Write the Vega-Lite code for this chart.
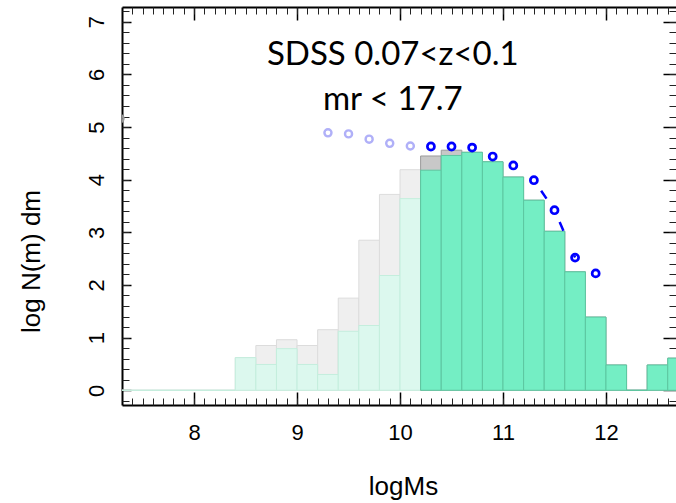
{
  "$schema": "https://vega.github.io/schema/vega-lite/v6.json",
  "autosize": {"type": "none"},
  "width": 554,
  "height": 398,
  "padding": {"left": 122, "top": 7, "right": 0, "bottom": 98},
  "background": "white",
  "config": {
    "view": {"stroke": null},
    "axis": {"grid": false, "labelFont": "Liberation Sans", "titleFont": "Liberation Sans", "titleFontWeight": "normal", "labelColor": "black", "titleColor": "black"}
  },
  "resolve": {"axis": {"x": "independent", "y": "independent"}},
  "datasets": {
    "light": [
      {"lo": 7.2, "hi": 7.4, "total": 0, "sel": 0},
      {"lo": 7.4, "hi": 7.6, "total": 0, "sel": 0},
      {"lo": 7.6, "hi": 7.8, "total": 0, "sel": 0},
      {"lo": 7.8, "hi": 8.0, "total": 0, "sel": 0},
      {"lo": 8.0, "hi": 8.2, "total": 0, "sel": 0},
      {"lo": 8.2, "hi": 8.4, "total": 0, "sel": 0},
      {"lo": 8.4, "hi": 8.6, "total": 0.62, "sel": 0.62},
      {"lo": 8.6, "hi": 8.8, "total": 0.85, "sel": 0.49},
      {"lo": 8.8, "hi": 9.0, "total": 0.96, "sel": 0.79},
      {"lo": 9.0, "hi": 9.2, "total": 0.85, "sel": 0.49},
      {"lo": 9.2, "hi": 9.4, "total": 1.15, "sel": 0.30},
      {"lo": 9.4, "hi": 9.6, "total": 1.75, "sel": 1.12},
      {"lo": 9.6, "hi": 9.8, "total": 2.85, "sel": 1.23},
      {"lo": 9.8, "hi": 10.0, "total": 3.72, "sel": 2.18},
      {"lo": 10.0, "hi": 10.2, "total": 4.19, "sel": 3.64}
    ],
    "main": [
      {"lo": 10.2, "hi": 10.4, "total": 4.45, "sel": 4.18},
      {"lo": 10.4, "hi": 10.6, "total": 4.56, "sel": 4.46},
      {"lo": 10.6, "hi": 10.8, "total": 4.52, "sel": 4.52},
      {"lo": 10.8, "hi": 11.0, "total": 4.34, "sel": 4.34},
      {"lo": 11.0, "hi": 11.2, "total": 4.05, "sel": 4.05},
      {"lo": 11.2, "hi": 11.4, "total": 3.61, "sel": 3.61},
      {"lo": 11.4, "hi": 11.6, "total": 3.02, "sel": 3.02},
      {"lo": 11.6, "hi": 11.8, "total": 2.25, "sel": 2.25},
      {"lo": 11.8, "hi": 12.0, "total": 1.39, "sel": 1.39},
      {"lo": 12.0, "hi": 12.2, "total": 0.48, "sel": 0.48},
      {"lo": 12.2, "hi": 12.4, "total": 0, "sel": 0},
      {"lo": 12.4, "hi": 12.6, "total": 0.48, "sel": 0.48},
      {"lo": 12.6, "hi": 12.8, "total": 0.61, "sel": 0.61}
    ],
    "mf_low": [
      {"m": 9.3, "n": 4.89},
      {"m": 9.5, "n": 4.87},
      {"m": 9.7, "n": 4.77},
      {"m": 9.9, "n": 4.69},
      {"m": 10.1, "n": 4.64}
    ],
    "mf_high": [
      {"m": 10.3, "n": 4.63},
      {"m": 10.5, "n": 4.63},
      {"m": 10.7, "n": 4.61},
      {"m": 10.9, "n": 4.44},
      {"m": 11.1, "n": 4.27},
      {"m": 11.3, "n": 3.99},
      {"m": 11.5, "n": 3.42},
      {"m": 11.7, "n": 2.52},
      {"m": 11.9, "n": 2.22}
    ],
    "mf_edge": [
      {"m": 7.28, "n": 5.16}
    ],
    "notes": [
      {"m": 9.93, "n": 6.17, "label": "SDSS 0.07<z<0.1"},
      {"m": 9.93, "n": 5.32, "label": "mr < 17.7"}
    ]
  },
  "layer": [
    {
      "data": {"name": "light"},
      "mark": {"type": "rect", "fill": "#efefef", "stroke": "#dcdcdc", "strokeWidth": 1, "clip": true},
      "encoding": {
        "x": {
          "field": "lo", "type": "quantitative",
          "scale": {"domain": [7.3, 12.68], "nice": false, "zero": false},
          "axis": {
            "orient": "bottom", "values": [8, 9, 10, 11, 12], "ticks": false, "tickSize": 0,
            "domain": true, "domainColor": "black", "domainWidth": 2,
            "labelFontSize": 22, "labelPadding": 17, "labelBaseline": "top",
            "title": "logMs", "titleFontSize": 26, "titleX": 281, "titleY": 89, "titleBaseline": "alphabetic", "titleAlign": "center"
          }
        },
        "x2": {"field": "hi"},
        "y": {
          "field": "total", "type": "quantitative",
          "scale": {"domain": [-0.28, 7.28], "nice": false, "zero": false},
          "axis": {
            "orient": "left", "values": [0, 1, 2, 3, 4, 5, 6, 7], "ticks": false, "tickSize": 0,
            "domain": true, "domainColor": "black", "domainWidth": 2,
            "labelFontSize": 22, "labelPadding": 14, "labelAngle": 270, "labelAlign": "center", "labelBaseline": "bottom",
            "title": "log N(m) dm", "titleFontSize": 26, "titleAngle": 270, "titleX": -83, "titleY": 254, "titleBaseline": "alphabetic", "titleAlign": "center"
          }
        },
        "y2": {"datum": 0}
      }
    },
    {
      "data": {"name": "light"},
      "mark": {"type": "rect", "fill": "#dcf8ee", "stroke": "#c4eedd", "strokeWidth": 1, "clip": true},
      "encoding": {
        "x": {
          "field": "lo", "type": "quantitative",
          "axis": {"orient": "bottom", "values": [8, 9, 10, 11, 12], "labels": false, "domain": false, "tickSize": -13, "tickWidth": 1.5, "tickColor": "black", "title": null}
        },
        "x2": {"field": "hi"},
        "y": {
          "field": "sel", "type": "quantitative",
          "axis": {"orient": "left", "values": [0, 1, 2, 3, 4, 5, 6, 7], "labels": false, "domain": false, "tickSize": -9, "tickWidth": 1.5, "tickColor": "black", "title": null}
        },
        "y2": {"datum": 0}
      }
    },
    {
      "data": {"name": "main"},
      "mark": {"type": "rect", "fill": "#c8c8c8", "stroke": "#9a9a9a", "strokeWidth": 1, "clip": true},
      "encoding": {
        "x": {
          "field": "lo", "type": "quantitative",
          "axis": {"orient": "bottom", "values": [7.4, 7.5, 7.6, 7.7, 7.8, 7.9, 8, 8.1, 8.2, 8.3, 8.4, 8.5, 8.6, 8.7, 8.8, 8.9, 9, 9.1, 9.2, 9.3, 9.4, 9.5, 9.6, 9.7, 9.8, 9.9, 10, 10.1, 10.2, 10.3, 10.4, 10.5, 10.6, 10.7, 10.8, 10.9, 11, 11.1, 11.2, 11.3, 11.4, 11.5, 11.6, 11.7, 11.8, 11.9, 12, 12.1, 12.2, 12.3, 12.4, 12.5, 12.6], "labels": false, "domain": false, "tickSize": -7, "tickWidth": 1, "tickColor": "#222", "title": null}
        },
        "x2": {"field": "hi"},
        "y": {
          "field": "total", "type": "quantitative",
          "axis": {"orient": "left", "values": [-0.2, 0, 0.2, 0.4, 0.6, 0.8, 1, 1.2, 1.4, 1.6, 1.8, 2, 2.2, 2.4, 2.6, 2.8, 3, 3.2, 3.4, 3.6, 3.8, 4, 4.2, 4.4, 4.6, 4.8, 5, 5.2, 5.4, 5.6, 5.8, 6, 6.2, 6.4, 6.6, 6.8, 7, 7.2], "labels": false, "domain": false, "tickSize": -7, "tickWidth": 1, "tickColor": "#222", "title": null}
        },
        "y2": {"datum": 0}
      }
    },
    {
      "data": {"name": "main"},
      "mark": {"type": "rect", "fill": "#74eec4", "stroke": "#5cc7a0", "strokeWidth": 1, "clip": true},
      "encoding": {
        "x": {
          "field": "lo", "type": "quantitative",
          "axis": {"orient": "top", "values": [8, 9, 10, 11, 12], "labels": false, "domain": true, "domainColor": "black", "domainWidth": 2, "tickSize": -13, "tickWidth": 1.5, "tickColor": "black", "title": null}
        },
        "x2": {"field": "hi"},
        "y": {
          "field": "sel", "type": "quantitative",
          "axis": {"orient": "right", "values": [0, 1, 2, 3, 4, 5, 6, 7], "labels": false, "domain": false, "tickSize": -13, "tickWidth": 1.5, "tickColor": "black", "title": null}
        },
        "y2": {"datum": 0}
      }
    },
    {
      "data": {"name": "mf_high"},
      "transform": [{"filter": "datum.m >= 11.25 && datum.m <= 11.75"}],
      "mark": {"type": "line", "color": "#0000ff", "strokeWidth": 2.5, "strokeDash": [9.5, 27], "strokeDashOffset": 23.7},
      "encoding": {
        "x": {"field": "m", "type": "quantitative", "axis": null},
        "y": {"field": "n", "type": "quantitative", "axis": null}
      }
    },
    {
      "data": {"name": "mf_low"},
      "mark": {"type": "point", "shape": "circle", "filled": false, "opacity": 1, "color": "#b0b0f8", "strokeWidth": 2.4, "size": 50},
      "encoding": {
        "x": {
          "field": "m", "type": "quantitative",
          "axis": {"orient": "top", "values": [7.4, 7.5, 7.6, 7.7, 7.8, 7.9, 8, 8.1, 8.2, 8.3, 8.4, 8.5, 8.6, 8.7, 8.8, 8.9, 9, 9.1, 9.2, 9.3, 9.4, 9.5, 9.6, 9.7, 9.8, 9.9, 10, 10.1, 10.2, 10.3, 10.4, 10.5, 10.6, 10.7, 10.8, 10.9, 11, 11.1, 11.2, 11.3, 11.4, 11.5, 11.6, 11.7, 11.8, 11.9, 12, 12.1, 12.2, 12.3, 12.4, 12.5, 12.6], "labels": false, "domain": false, "tickSize": -7, "tickWidth": 1, "tickColor": "#222", "title": null}
        },
        "y": {
          "field": "n", "type": "quantitative",
          "axis": {"orient": "right", "values": [-0.2, 0, 0.2, 0.4, 0.6, 0.8, 1, 1.2, 1.4, 1.6, 1.8, 2, 2.2, 2.4, 2.6, 2.8, 3, 3.2, 3.4, 3.6, 3.8, 4, 4.2, 4.4, 4.6, 4.8, 5, 5.2, 5.4, 5.6, 5.8, 6, 6.2, 6.4, 6.6, 6.8, 7, 7.2], "labels": false, "domain": false, "tickSize": -7, "tickWidth": 1, "tickColor": "#222", "title": null}
        }
      }
    },
    {
      "data": {"name": "mf_high"},
      "mark": {"type": "point", "shape": "circle", "filled": false, "opacity": 1, "color": "#0000ff", "strokeWidth": 2.7, "size": 50},
      "encoding": {
        "x": {"field": "m", "type": "quantitative", "axis": null},
        "y": {"field": "n", "type": "quantitative", "axis": null}
      }
    },
    {
      "data": {"name": "mf_edge"},
      "mark": {"type": "point", "shape": "circle", "filled": false, "opacity": 1, "color": "#9a9a9a", "strokeWidth": 2.5, "size": 50, "clip": true},
      "encoding": {
        "x": {"field": "m", "type": "quantitative", "axis": null},
        "y": {"field": "n", "type": "quantitative", "axis": null}
      }
    },
    {
      "data": {"name": "notes"},
      "mark": {"type": "text", "font": "Lato", "fontSize": 33, "align": "center", "baseline": "alphabetic", "color": "black"},
      "encoding": {
        "x": {"field": "m", "type": "quantitative", "axis": null},
        "y": {"field": "n", "type": "quantitative", "axis": null},
        "text": {"field": "label"}
      }
    }
  ]
}
